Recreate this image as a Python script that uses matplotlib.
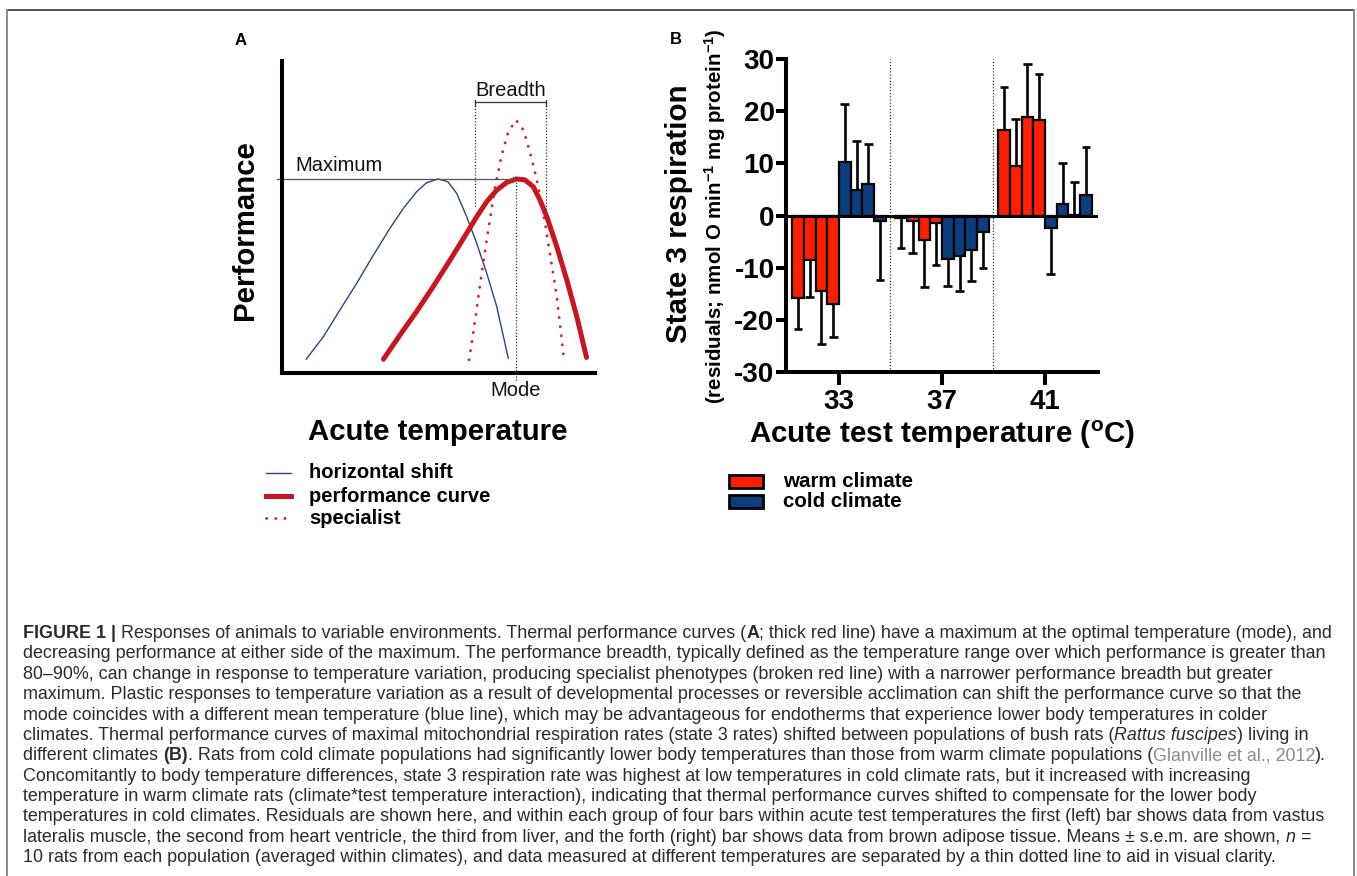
import matplotlib
matplotlib.use('Agg')
import matplotlib.pyplot as plt
from matplotlib import font_manager
from matplotlib.lines import Line2D
from matplotlib.patches import Rectangle

W, H, DPI = 1357, 876, 100

# ---------------- Panel A: conceptual curves (temperature %, performance %) ----------------
curve_x = [32.4, 37.7, 43.0, 48.3, 53.7, 59.0, 62.2, 65.4, 68.6, 71.8, 74.8, 77.6, 80.3, 82.4, 84.6, 87.8, 91.0, 94.2, 97.3]
curve_y = [4.3, 12.1, 19.6, 27.6, 36.1, 44.7, 50.0, 54.8, 58.5, 61.0, 62.1, 61.8, 59.6, 55.4, 50.0, 40.4, 29.7, 17.9, 4.9]
shift_x = [7.7, 13.2, 18.5, 23.9, 29.2, 34.5, 38.8, 43.0, 46.2, 49.9, 53.0, 55.8, 59.0, 62.2, 65.4, 68.6, 72.3]
shift_y = [4.3, 11.5, 20.1, 28.7, 37.7, 46.3, 52.7, 58.0, 60.9, 62.1, 61.2, 57.5, 50.0, 41.5, 31.9, 21.2, 4.6]
spec_x = [59.8, 61.7, 63.8, 65.9, 68.1, 70.2, 72.3, 74.8, 77.1, 79.2, 81.4, 83.5, 85.6, 87.8, 90.1]
spec_y = [4.1, 16.9, 31.9, 45.7, 59.6, 69.8, 77.2, 81.0, 77.8, 70.8, 61.8, 51.1, 38.3, 24.4, 4.1]
maximum_level = 62.1
mode_temp = 74.8
breadth_x = [61.6, 84.3]
breadth_low = [53.0, 51.6]
breadth_top = 86.9
legend_A = ['horizontal shift', 'performance curve', 'specialist']

# ---------------- Panel B: state 3 respiration residuals ----------------
test_temps = [33, 37, 41]
warm_vals = [[-15.8, -8.4, -14.5, -17.0], [-0.4, -1.0, -4.6, -1.4], [16.4, 9.5, 18.9, 18.4]]
warm_sem = [[5.9, 7.1, 10.0, 6.3], [5.7, 6.1, 9.1, 8.1], [8.3, 9.0, 10.1, 8.8]]
cold_vals = [[10.2, 4.9, 6.0, -1.0], [-8.3, -7.8, -6.5, -3.2], [-2.4, 2.2, 0.2, 3.9]]
cold_sem = [[11.2, 9.4, 7.8, 11.4], [5.2, 6.6, 6.1, 6.9], [8.7, 7.8, 6.2, 9.2]]
separators = [35, 39]
y_ticks = [30, 20, 10, 0, -10, -20, -30]
legend_B = ['warm climate', 'cold climate']

RED_A = '#C9151E'
BLUE_A = '#2E4382'
RED_B = '#FF1F00'
BLUE_B = '#0B3D7F'

plt.rcParams['font.family'] = ['Liberation Sans', 'DejaVu Sans']
plt.rcParams['axes.unicode_minus'] = False
plt.rcParams['mathtext.fontset'] = 'custom'
plt.rcParams['mathtext.rm'] = 'Liberation Sans'
plt.rcParams['mathtext.bf'] = 'Liberation Sans:bold'
plt.rcParams['mathtext.it'] = 'Liberation Sans:italic'

fig = plt.figure(figsize=(W / DPI, H / DPI), dpi=DPI)


def fx(x):
    return x / W


def fy(y):
    return 1 - y / H


# frame
fig.add_artist(Line2D([fx(7), fx(1354)], [fy(10), fy(10)], color='#333333', lw=1.2))
fig.add_artist(Line2D([fx(7), fx(7)], [fy(10), fy(876)], color='#8a8a8a', lw=1.4))
fig.add_artist(Line2D([fx(1354), fx(1354)], [fy(10), fy(876)], color='#8a8a8a', lw=1.4))

# ---------------- Panel A ----------------
axA = fig.add_axes([fx(282), fy(372.7), 313 / W, 312 / H])
axA.set_xlim(0, 100)
axA.set_ylim(0, 100)
axA.patch.set_alpha(0)
for s in ['top', 'right']:
    axA.spines[s].set_visible(False)
for s in ['left', 'bottom']:
    axA.spines[s].set_linewidth(2.9)
    axA.spines[s].set_color('black')
axA.set_xticks([])
axA.set_yticks([])

axA.plot(shift_x, shift_y, color=BLUE_A, lw=1.0, solid_capstyle='round', solid_joinstyle='round')
axA.plot(curve_x, curve_y, color=RED_A, lw=3.6, solid_capstyle='round', solid_joinstyle='round')
axA.plot(spec_x, spec_y, color='#D0202A', lw=2.0, linestyle=(0, (0.1, 3.2)), dash_capstyle='round')

axA.plot([-1.7, mode_temp], [maximum_level, maximum_level], color='#555555', lw=0.9, clip_on=False)
axA.plot([mode_temp, mode_temp], [maximum_level, -2.9], color='#333333', lw=0.9,
         linestyle=(0, (1, 1.5)), clip_on=False)
for bx, bl in zip(breadth_x, breadth_low):
    axA.plot([bx, bx], [breadth_top, bl], color='#333333', lw=0.9, linestyle=(0, (1, 1.5)))
    axA.plot([bx, bx], [breadth_top + 0.5, breadth_top - 1.5], color='#333333', lw=0.9)
axA.plot(breadth_x, [breadth_top, breadth_top], color='#333333', lw=0.9)

axA.text(4.2, 66.3, 'Maximum', fontsize=14.5, ha='left', va='center', color='#111111')
axA.text(sum(breadth_x) / 2, 90.6, 'Breadth', fontsize=14.5, ha='center', va='center', color='#111111')
axA.text(mode_temp, -5.6, 'Mode', fontsize=14.5, ha='center', va='center', color='#111111', clip_on=False)

fig.text(fx(245), fy(230), 'Performance', rotation=90, fontsize=21.2, fontweight='bold',
         ha='center', va='center')
fig.text(fx(437.5), fy(432), 'Acute temperature', fontsize=21.2, fontweight='bold',
         ha='center', va='center')
fig.text(fx(240.7), fy(40.7), 'A', fontsize=12, fontweight='bold', ha='center', va='center')

# legend A
leg_y = [473, 496, 518]
fig.add_artist(Line2D([fx(266), fx(291)], [fy(leg_y[0])] * 2, color=BLUE_A, lw=1.0))
fig.add_artist(Line2D([fx(266), fx(291)], [fy(leg_y[1])] * 2, color=RED_A, lw=3.6))
fig.add_artist(Line2D([fx(266), fx(291)], [fy(leg_y[2])] * 2, color='#D0202A', lw=2.0,
                      linestyle=(0, (0.1, 3.2)), dash_capstyle='round'))
for lbl, yy in zip(legend_A, leg_y):
    fig.text(fx(309), fy(yy), lbl, fontsize=14.5, fontweight='bold', ha='left', va='center')

# ---------------- Panel B ----------------
axB = fig.add_axes([fx(785.7), fy(372.3), (1098 - 785.7) / W, (372.3 - 59) / H])
axB.set_xlim(30.93, 43.06)
axB.set_ylim(-30, 30)
axB.patch.set_alpha(0)
for s in ['top', 'right']:
    axB.spines[s].set_visible(False)
for s in ['left', 'bottom']:
    axB.spines[s].set_linewidth(2.9)
    axB.spines[s].set_color('black')

bw = 0.455
for gi, g in enumerate(test_temps):
    vals = warm_vals[gi] + cold_vals[gi]
    errs = warm_sem[gi] + cold_sem[gi]
    cols = [RED_B] * len(warm_vals[gi]) + [BLUE_B] * len(cold_vals[gi])
    xs = [g + (i - 3.5) * bw for i in range(len(vals))]
    axB.bar(xs, vals, width=bw, color=cols, edgecolor='black', linewidth=1.6, zorder=3)
    for x, v, e in zip(xs, vals, errs):
        end = v + e if v >= 0 else v - e
        axB.vlines(x, v, end, color='black', lw=1.9, zorder=4)
        axB.hlines(end, x - 0.17, x + 0.17, color='black', lw=1.9, zorder=4)

axB.axhline(0, color='black', lw=2.2, zorder=5)
axB.vlines(separators, -30, 30, color='#333333', lw=0.9, linestyles=(0, (1, 1.5)), zorder=1)

axB.set_yticks(y_ticks)
axB.set_yticklabels([str(t) for t in y_ticks], fontsize=20, fontweight='bold')
axB.set_xticks(test_temps)
axB.set_xticklabels([str(t) for t in test_temps], fontsize=20, fontweight='bold')
axB.tick_params(axis='y', width=2.9, length=7.5, pad=0.5)
axB.tick_params(axis='x', width=2.9, length=9, pad=3)

fig.text(fx(679.3), fy(214), 'State 3 respiration', rotation=90, fontsize=21.3, fontweight='bold',
         ha='center', va='center')
fig.text(fx(715), fy(216), r'(residuals; nmol O min$^{\mathbf{-1}}$ mg protein$^{\mathbf{-1}}$)',
         rotation=90, fontsize=14.8, fontweight='bold', ha='center', va='center')
fig.text(fx(942), fy(435), r'Acute test temperature ($^{\mathbf{o}}$C)', fontsize=21.3,
         fontweight='bold', ha='center', va='center')
fig.text(fx(676), fy(40), 'B', fontsize=12, fontweight='bold', ha='center', va='center')

# legend B
for lbl, col, (y0, y1) in zip(legend_B, [RED_B, BLUE_B], [(475, 487.7), (495, 508)]):
    fig.add_artist(Rectangle((fx(729.3), fy(y1)), (763.3 - 729.3) / W, (y1 - y0) / H,
                             facecolor=col, edgecolor='black', lw=2.0))
    fig.text(fx(783), fy((y0 + y1) / 2), lbl, fontsize=14.8, fontweight='bold', ha='left', va='center')

# ---------------- Caption ----------------
caption_lines = [
    [("FIGURE 1 | ", "b"), ("Responses of animals to variable environments. Thermal performance curves (", "n"),
     ("A", "b"), ("; thick red line) have a maximum at the optimal temperature (mode), and", "n")],
    [("decreasing performance at either side of the maximum. The performance breadth, typically defined as the temperature range over which performance is greater than", "n")],
    [("80–90%, can change in response to temperature variation, producing specialist phenotypes (broken red line) with a narrower performance breadth but greater", "n")],
    [("maximum. Plastic responses to temperature variation as a result of developmental processes or reversible acclimation can shift the performance curve so that the", "n")],
    [("mode coincides with a different mean temperature (blue line), which may be advantageous for endotherms that experience lower body temperatures in colder", "n")],
    [("climates. Thermal performance curves of maximal mitochondrial respiration rates (state 3 rates) shifted between populations of bush rats (", "n"),
     ("Rattus fuscipes", "i"), (") living in", "n")],
    [("different climates ", "n"), ("(B)", "b"),
     (". Rats from cold climate populations had significantly lower body temperatures than those from warm climate populations (", "n"),
     ("Glanville et al., 2012", "g"), (").", "n")],
    [("Concomitantly to body temperature differences, state 3 respiration rate was highest at low temperatures in cold climate rats, but it increased with increasing", "n")],
    [("temperature in warm climate rats (climate*test temperature interaction), indicating that thermal performance curves shifted to compensate for the lower body", "n")],
    [("temperatures in cold climates. Residuals are shown here, and within each group of four bars within acute test temperatures the first (left) bar shows data from vastus", "n")],
    [("lateralis muscle, the second from heart ventricle, the third from liver, and the forth (right) bar shows data from brown adipose tissue. Means ± s.e.m. are shown, ", "n"),
     ("n", "i"), (" =", "n")],
    [("10 rats from each population (averaged within climates), and data measured at different temperatures are separated by a thin dotted line to aid in visual clarity.", "n")],
]

avail = {f.name for f in font_manager.fontManager.ttflist}
cap_family = 'Liberation Sans Narrow' if 'Liberation Sans Narrow' in avail else 'Liberation Sans'
CAP_COLOR = '#2b2b2b'
styles = {
    'n': dict(color=CAP_COLOR),
    'b': dict(color=CAP_COLOR, fontweight='bold'),
    'i': dict(color=CAP_COLOR, fontstyle='italic'),
    'g': dict(color='#8c8c8c'),
}
renderer = fig.canvas.get_renderer()


def text_w(s, fs, st):
    t = fig.text(0, 0, s, fontsize=fs, family=cap_family, **styles[st])
    w = t.get_window_extent(renderer).width
    t.remove()
    return w


def layout_line(segs, fs, x0, ybase, draw):
    x = x0
    for txt, st in segs:
        lead = len(txt) - len(txt.lstrip(' '))
        trail = len(txt) - len(txt.rstrip(' '))
        core = txt.strip(' ')
        sw = text_w('a a', fs, st) - text_w('aa', fs, st)
        x += lead * sw
        if draw:
            fig.text(fx(x), fy(ybase), core, fontsize=fs, family=cap_family, ha='left',
                     va='baseline', **styles[st])
        x += text_w(core, fs, st)
        x += trail * sw
    return x - x0


cap_left, cap_right = 23, 1334
base_fs = 12.0
w1 = layout_line(caption_lines[0], base_fs, cap_left, 0, False)
cap_fs = base_fs * (cap_right - cap_left) / w1
em_px = cap_fs * DPI / 72
first_center, last_center = 632, 856
spacing = (last_center - first_center) / (len(caption_lines) - 1)
for k, segs in enumerate(caption_lines):
    yc = first_center + k * spacing
    layout_line(segs, cap_fs, cap_left, yc + 0.34 * em_px, True)

fig.savefig('out.png', dpi=DPI)
